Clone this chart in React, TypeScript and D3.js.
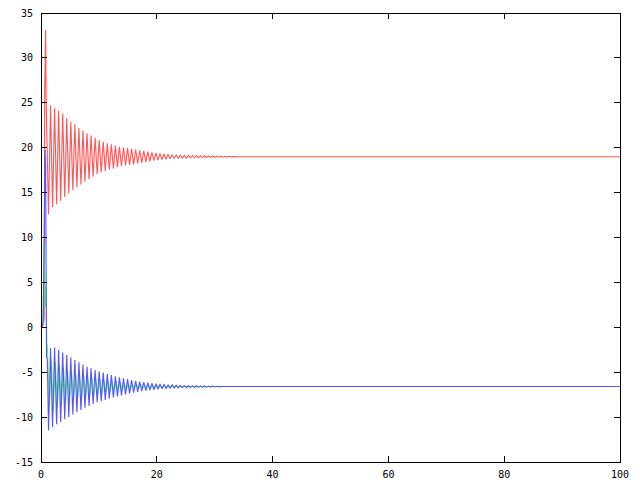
import * as d3 from "d3";

const W = 640;
const H = 480;
const PLOT = { left: 41, right: 620, top: 13, bottom: 462 };

const xTicks = [0, 20, 40, 60, 80, 100];
const yTicks = [-15, -10, -5, 0, 5, 10, 15, 20, 25, 30, 35];

// start-up transient
const redHeadT = [0, 0.3, 0.55, 0.64, 0.8, 0.88];
const redHeadV = [0, 0.1, 0.9, 26.0, 33.1, 25.5];
const greenHeadT = [0, 0.3, 0.38, 0.55, 0.7, 0.88, 1.0, 1.1];
const greenHeadV = [0, 0.3, 2.2, 9.4, 2.3, 4.5, -1.8, -2.0];
const blueHeadT = [0, 0.25, 0.35, 0.42, 0.7, 0.8, 0.95, 1.1];
const blueHeadV = [0, 0.2, 0.5, 2.2, 19.8, 17.8, -3.3, -3.6];

// swings after the transient: one extreme every half period
const SWING_DT = 0.35;
const redSwingStart = 1.3;
const redSwings = [
  12.6, 24.7, 13.4, 24.4, 13.7, 24.1, 14.1, 23.8, 14.5, 23.3,
  14.9, 22.9, 15.3, 22.6, 15.6, 22.2, 15.9, 21.9, 16.2, 21.6,
  16.5, 21.35, 16.8, 21.1, 17.05, 20.85, 17.25, 20.65, 17.42, 20.5,
  17.56, 20.37, 17.7, 20.23, 17.83, 20.12, 17.94, 20.02, 18.02, 19.95,
  18.09, 19.88, 18.15, 19.8, 18.24, 19.72, 18.32, 19.65, 18.4, 19.56,
  18.48, 19.48, 18.55, 19.42, 18.61, 19.36, 18.67, 19.3, 18.72, 19.26,
  18.76, 19.22, 18.8, 19.19, 18.82, 19.17, 18.84, 19.15, 18.85, 19.14,
  18.87, 19.13, 18.88, 19.12, 18.89, 19.11, 18.9, 19.1, 18.91, 19.09,
  18.92, 19.08, 18.93, 19.07, 18.94, 19.06, 18.95, 19.05, 18.96, 19.04,
  18.97, 19.03, 18.98, 19.0,
];
const greenSwingStart = 1.43;
const greenSwings = [
  -8.9, -3.6, -9.2, -3.9, -9.0, -4.2, -8.7, -4.5, -8.4, -4.8,
  -8.2, -5.0, -8.0, -5.15, -7.9, -5.3, -7.8, -5.43, -7.72, -5.54,
  -7.6, -5.64, -7.5, -5.74, -7.42, -5.82, -7.34, -5.9, -7.26, -5.98,
  -7.19, -6.05, -7.12, -6.11, -7.06, -6.17, -7.01, -6.22, -6.96, -6.26,
  -6.92, -6.3, -6.88, -6.34, -6.84, -6.38, -6.8, -6.41, -6.78, -6.44,
  -6.75, -6.46, -6.73, -6.48, -6.71, -6.5, -6.69, -6.52, -6.67, -6.54,
  -6.65, -6.56, -6.63, -6.58, -6.6,
];
const blueSwingStart = 1.3;
const blueSwings = [
  -11.5, -2.3, -11.1, -2.25, -10.8, -2.5, -10.55, -2.8, -10.25, -3.1,
  -10.0, -3.35, -9.7, -3.65, -9.45, -3.9, -9.2, -4.15, -8.95, -4.4,
  -8.75, -4.55, -8.55, -4.75, -8.35, -4.9, -8.22, -5.05, -8.08, -5.2,
  -7.94, -5.33, -7.81, -5.45, -7.69, -5.56, -7.58, -5.67, -7.48, -5.77,
  -7.38, -5.87, -7.28, -5.96, -7.2, -6.04, -7.12, -6.11, -7.06, -6.17,
  -7.0, -6.23, -6.95, -6.28, -6.9, -6.32, -6.86, -6.35, -6.83, -6.39,
  -6.8, -6.41, -6.77, -6.44, -6.75, -6.46, -6.73, -6.48, -6.72, -6.49,
  -6.71, -6.5, -6.7, -6.51, -6.69, -6.52, -6.68, -6.53, -6.67, -6.54,
  -6.66, -6.55, -6.65, -6.56, -6.63, -6.6,
];

// steady state out to the end of the run
const T_END = 100;
const redFinal = 19.0;
const greenFinal = -6.6;
const blueFinal = -6.6;

type Pt = [number, number];

function buildSeries(headT: number[], headV: number[], start: number, swings: number[], final: number): Pt[] {
  const pts: Pt[] = headT.map((t, i) => [t, headV[i]]);
  swings.forEach((v, i) => pts.push([start + i * SWING_DT, v]));
  pts.push([T_END, final]);
  return pts;
}

const series = [
  { name: "red", color: "#ff5555", pts: buildSeries(redHeadT, redHeadV, redSwingStart, redSwings, redFinal) },
  { name: "green", color: "#55ff55", pts: buildSeries(greenHeadT, greenHeadV, greenSwingStart, greenSwings, greenFinal) },
  { name: "blue", color: "#5555ff", pts: buildSeries(blueHeadT, blueHeadV, blueSwingStart, blueSwings, blueFinal) },
];

export default function App() {
  const x = d3.scaleLinear().domain([0, 100]).range([PLOT.left, PLOT.right]);
  const y = d3.scaleLinear().domain([-15, 35]).range([PLOT.bottom, PLOT.top]);

  const line = d3
    .line<Pt>()
    .x((d) => x(d[0]))
    .y((d) => y(d[1]));

  const tick = 6;
  const font = "'DejaVu Sans Mono', monospace";

  return (
    <svg
      width={W}
      height={H}
      viewBox={`0 0 ${W} ${H}`}
      style={{ position: "absolute", left: 0, top: 0, background: "#fff" }}
    >
      <rect x={0} y={0} width={W} height={H} fill="#fff" />

      <g>
        {series.map((s) => (
          <path
            key={s.name}
            d={line(s.pts) ?? ""}
            fill="none"
            stroke={s.color}
            strokeWidth={1.1}
            strokeLinejoin="miter"
            strokeMiterlimit={2}
          />
        ))}
      </g>

      <g stroke="#000" strokeWidth={1} shapeRendering="crispEdges">
        {xTicks.map((t) => (
          <g key={`xt${t}`}>
            <line x1={x(t)} x2={x(t)} y1={PLOT.bottom} y2={PLOT.bottom - tick} />
            <line x1={x(t)} x2={x(t)} y1={PLOT.top} y2={PLOT.top + tick} />
          </g>
        ))}
        {yTicks.map((t) => (
          <g key={`yt${t}`}>
            <line x1={PLOT.left} x2={PLOT.left + tick} y1={y(t)} y2={y(t)} />
            <line x1={PLOT.right} x2={PLOT.right - tick} y1={y(t)} y2={y(t)} />
          </g>
        ))}
        <rect
          x={PLOT.left}
          y={PLOT.top}
          width={PLOT.right - PLOT.left}
          height={PLOT.bottom - PLOT.top}
          fill="none"
        />
      </g>

      <g fontFamily={font} fontSize={10} fill="#000">
        {xTicks.map((t) => (
          <text key={`xl${t}`} x={x(t)} y={478} textAnchor="middle">
            {t}
          </text>
        ))}
        {yTicks.map((t) => (
          <text key={`yl${t}`} x={33} y={y(t)} dy="0.35em" textAnchor="end">
            {t}
          </text>
        ))}
      </g>
    </svg>
  );
}
